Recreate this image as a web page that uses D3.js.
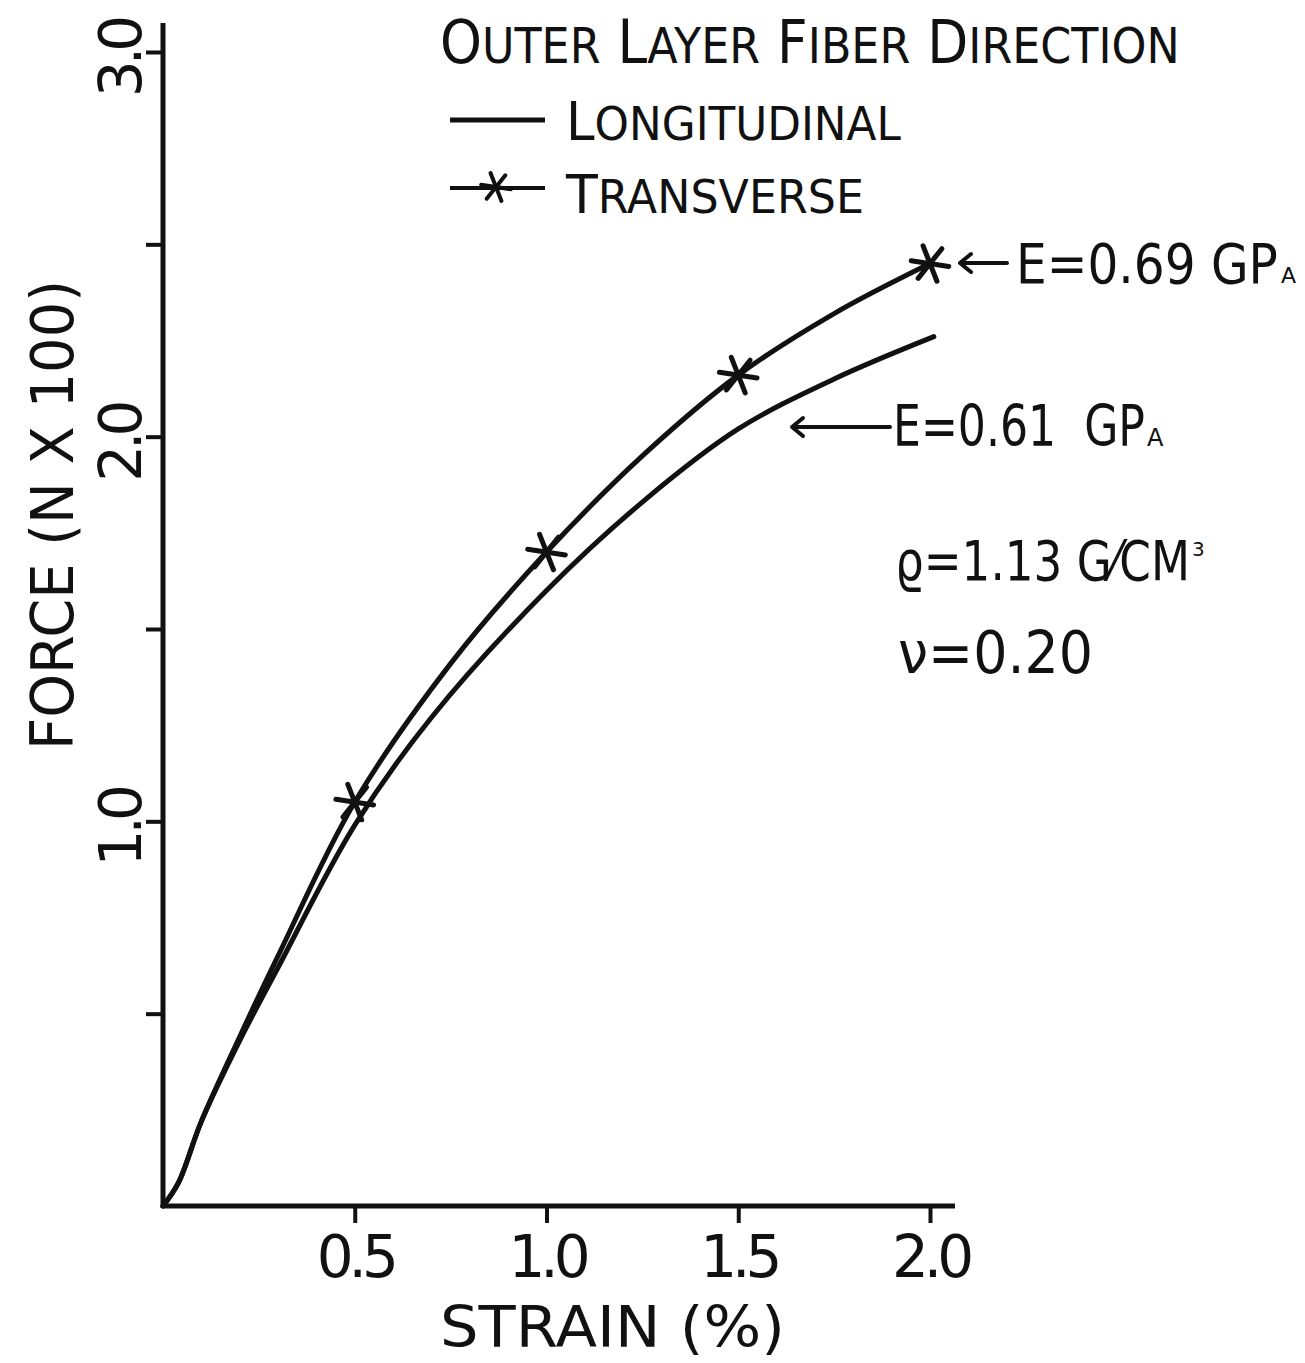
<!DOCTYPE html>
<html><head><meta charset="utf-8">
<script src="https://cdn.jsdelivr.net/npm/d3@7"></script>
<style>
html,body{margin:0;padding:0;background:#fff;}
svg{display:block;}
text{font-family:"DejaVu Sans",sans-serif;fill:#111;}
</style></head>
<body><svg id="c" width="1305" height="1363"></svg>
<script>
// ---- data ----
const longStrain   = [0, 0.04, 0.1, 0.2, 0.3, 0.5, 0.7, 1.0, 1.25, 1.5, 1.75, 2.01];
const longForce    = [0, 0.06, 0.22, 0.43, 0.62, 0.99, 1.27, 1.60, 1.83, 2.02, 2.15, 2.26];
const transStrain  = [0, 0.04, 0.1, 0.2, 0.3, 0.5, 0.75, 1.0, 1.25, 1.5, 1.75, 2.0];
const transForce   = [0, 0.06, 0.22, 0.44, 0.65, 1.05, 1.41, 1.70, 1.95, 2.16, 2.32, 2.45];
const markerStrain = [0.5, 1.0, 1.5, 2.0];
const markerForce  = [1.05, 1.70, 2.16, 2.45];
const xTicks = [0.5, 1.0, 1.5, 2.0];
const yTicks = [0.5, 1.0, 1.5, 2.0, 2.5, 3.0];
const yLabelled = [1.0, 2.0, 3.0];
const xTitle = "STRAIN (%)";
const yTitle = "FORCE (N X 100)";

const svg = d3.select("#c");
const x = d3.scaleLinear().domain([0, 2]).range([163, 930]);
const y = d3.scaleLinear().domain([0, 3]).range([1206, 52]);
const ink = "#111";

// horizontally condensed text fitted to a target width via a transform
function fitText(parent, tx, ty, width, build, rot) {
  const g = parent.append("g");
  const t = g.append("text").attr("x", 0).attr("y", 0);
  build(t);
  const w = t.node().getComputedTextLength();
  const s = width / w;
  if (rot) {
    t.attr("text-anchor", "middle");
    g.attr("transform", `translate(${tx},${ty}) rotate(-90) scale(${s},1)`);
  } else {
    g.attr("transform", `translate(${tx},${ty}) scale(${s},1)`);
  }
  return t;
}

// axes
const xAxis = svg.append("g").attr("transform", `translate(0,${y(0)})`)
  .call(d3.axisBottom(x).tickValues(xTicks).tickSize(17).tickFormat(d3.format(".1f")));
xAxis.select(".domain").attr("d", `M${x(0)},0H955`).attr("stroke", ink).attr("stroke-width", 5);
xAxis.selectAll(".tick line").attr("stroke", ink).attr("stroke-width", 4);
xAxis.selectAll(".tick text").attr("y", 71).attr("dy", 0)
  .style("font-size", "58px").attr("letter-spacing", -5).attr("fill", ink);

const yAxis = svg.append("g").attr("transform", `translate(${x(0)},0)`)
  .call(d3.axisLeft(y).tickValues(yTicks).tickSize(17)
    .tickFormat(d => yLabelled.includes(d) ? d3.format(".1f")(d) : ""));
yAxis.select(".domain").attr("d", `M0,${y(0)+2}V23`).attr("stroke", ink).attr("stroke-width", 5);
yAxis.selectAll(".tick line").attr("stroke", ink).attr("stroke-width", 4);
yAxis.selectAll(".tick text").attr("transform", "rotate(-90)")
  .attr("x", -6).attr("y", -22).attr("dy", 0).attr("text-anchor", "middle")
  .style("font-size", "58px").attr("letter-spacing", -5).attr("fill", ink);

// axis titles
fitText(svg, 440, 1347, 345, t => t.style("font-size", "57px").text(xTitle));
fitText(svg, 73, 515, 470, t => t.style("font-size", "58px").text(yTitle), true);

// curves
const line = d3.line().x(d => x(d[0])).y(d => y(d[1])).curve(d3.curveCatmullRom.alpha(0.5));
const longPts = longStrain.map((s, i) => [s, longForce[i]]);
const transPts = transStrain.map((s, i) => [s, transForce[i]]);
svg.append("path").attr("d", line(longPts)).attr("fill", "none").attr("stroke", ink)
  .attr("stroke-width", 5).attr("stroke-linecap", "round");
svg.append("path").attr("d", line(transPts)).attr("fill", "none").attr("stroke", ink)
  .attr("stroke-width", 5).attr("stroke-linecap", "round");

function star(g, cx, cy, r, w) {
  const angles = [0, 60, 120];
  const s = g.append("g").attr("transform", `translate(${cx},${cy})`);
  angles.forEach(a => {
    const t = a * Math.PI / 180 + 0.15;
    s.append("line").attr("x1", -r * Math.cos(t)).attr("y1", -r * Math.sin(t))
      .attr("x2", r * Math.cos(t)).attr("y2", r * Math.sin(t))
      .attr("stroke", ink).attr("stroke-width", w).attr("stroke-linecap", "round");
  });
}
markerStrain.forEach((s, i) => star(svg, x(s), y(markerForce[i]), 19, 5));

// legend
function smallCaps(words, big, small) {
  return sel => words.forEach((w, i) => {
    sel.append("tspan").style("font-size", big + "px").text((i ? " " : "") + w[0]);
    sel.append("tspan").style("font-size", small + "px").text(w.slice(1));
  });
}
fitText(svg, 440, 63, 740, smallCaps(["OUTER", "LAYER", "FIBER", "DIRECTION"], 60, 50));
svg.append("line").attr("x1", 450).attr("x2", 545).attr("y1", 120).attr("y2", 120)
  .attr("stroke", ink).attr("stroke-width", 5);
fitText(svg, 566, 140, 335, smallCaps(["LONGITUDINAL"], 54, 46));
svg.append("line").attr("x1", 450).attr("x2", 545).attr("y1", 188).attr("y2", 188)
  .attr("stroke", ink).attr("stroke-width", 4);
star(svg, 496, 187, 15, 4);
fitText(svg, 566, 213, 298, smallCaps(["TRANSVERSE"], 54, 46));

// annotations
function arrow(x1, x2, yy) {
  svg.append("path").attr("d", `M${x2},${yy}H${x1}M${x1 + 11},${yy - 9}L${x1},${yy}L${x1 + 11},${yy + 9}`)
    .attr("fill", "none").attr("stroke", ink).attr("stroke-width", 4)
    .attr("stroke-linecap", "round").attr("stroke-linejoin", "round");
}
arrow(960, 1007, 263);
fitText(svg, 1016, 283, 262, t => t.style("font-size", "55px").text("E=0.69 GP"));
svg.append("text").attr("x", 1281).attr("y", 283).style("font-size", "22px").text("A");
arrow(792, 890, 427);
fitText(svg, 893, 446, 252, t => t.style("font-size", "57px").text("E=0.61\u00a0 GP"));
svg.append("text").attr("x", 1147).attr("y", 446).style("font-size", "24px").text("A");
fitText(svg, 895, 580, 295, t => t.style("font-size", "56px").text("\u03f1=1.13 G\u2044CM"));
svg.append("text").attr("x", 1192).attr("y", 556).style("font-size", "20px").text("3");
fitText(svg, 898, 673, 195, t => t.style("font-size", "58px").text("\u03bd=0.20"));
</script></body></html>
